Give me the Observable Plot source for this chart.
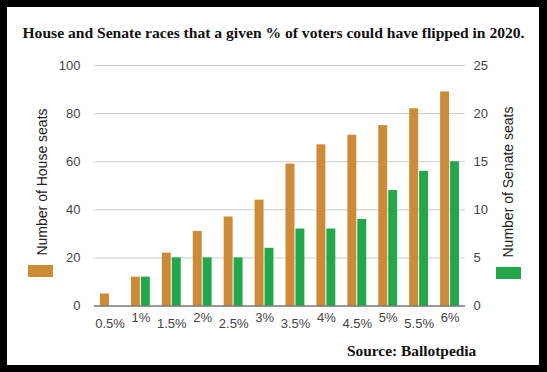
<!DOCTYPE html>
<html>
<head>
<meta charset="utf-8">
<script src="https://cdn.jsdelivr.net/npm/d3@7"></script>
<script src="https://cdn.jsdelivr.net/npm/@observablehq/plot@0.6"></script>
<style>
  html, body { margin: 0; padding: 0; background: #fff; }
  #page { position: relative; width: 547px; height: 372px; overflow: hidden; background: #fff; }
  #chart { position: absolute; left: 0; top: 0; }
  .title { position: absolute; left: 0; width: 547px; text-align: center; top: 25px;
    font: bold 15.6px "Liberation Serif", "Times New Roman", serif; line-height: 15.6px; color: #111; white-space: nowrap; }
  .source { position: absolute; left: 347px; top: 343px;
    font: bold 15.4px "Liberation Serif", "Times New Roman", serif; line-height: 15.4px; color: #111; white-space: nowrap; }
  .axtitle { position: absolute; font: 14px "Liberation Sans", Arial, sans-serif; color: #222; white-space: nowrap;
    transform: translate(-50%, -50%) rotate(-90deg); line-height: 14px; }
  .swatch { position: absolute; width: 25px; height: 12px; }
  #frame { position: absolute; left: 0; top: 0; width: 547px; height: 372px; box-sizing: border-box;
    border-style: solid; border-color: #000; border-width: 7px 8px 7px 7px; pointer-events: none; }
</style>
</head>
<body>
<div id="page">
  <div id="chart"></div>
  <div class="title">House and Senate races that a given % of voters could have flipped in 2020.</div>
  <div class="source">Source: Ballotpedia</div>
  <div class="axtitle" style="left:41.5px; top:182px;">Number of House seats</div>
  <div class="axtitle" style="left:507.5px; top:181.5px;">Number of Senate seats</div>
  <div class="swatch" style="left:28px; top:265px; background:#cd8a37;"></div>
  <div class="swatch" style="left:496px; top:267px; background:#22a84a;"></div>
  <div id="frame"></div>
</div>
<script>
// Data
const categories = ["0.5%", "1%", "1.5%", "2%", "2.5%", "3%", "3.5%", "4%", "4.5%", "5%", "5.5%", "6%"];
const houseSeats = [5, 12, 22, 31, 37, 44, 59, 67, 71, 75, 82, 89];
const senateSeats = [0, 3, 5, 5, 5, 6, 8, 8, 9, 12, 14, 15];
const houseTicks = [0, 20, 40, 60, 80, 100];
const senateTicks = [0, 5, 10, 15, 20, 25];

const houseColor = "#cd8a37";
const senateColor = "#22a84a";
const ratio = 100 / 25; // senate axis max 25 maps onto house axis max 100

const rows = categories.map((c, i) => ({cat: c, house: houseSeats[i], senate: senateSeats[i]}));

const W = 547, H = 372;
const mL = 94, mR = 82, mT = 65, mB = 66.5;
const pInner = 0.39, pOuter = 0.195;
const step = (W - mL - mR) / (categories.length - pInner + 2 * pOuter);
const bw = step * (1 - pInner);
const half = bw / 2 + 0.5;

const chart = Plot.plot({
  width: W,
  height: H,
  marginLeft: mL,
  marginRight: mR,
  marginTop: mT,
  marginBottom: mB,
  style: {fontFamily: "'Liberation Sans', Arial, sans-serif", fontSize: "13px", background: "transparent", color: "#444"},
  x: {domain: categories, paddingInner: pInner, paddingOuter: pOuter, round: false, axis: null},
  y: {domain: [0, 100], axis: null},
  marks: [
    Plot.gridY(houseTicks.filter(d => d > 0), {stroke: "#cccccc", strokeOpacity: 1}),
    Plot.barY(rows, {x: "cat", y: "house", fill: houseColor, insetRight: half, insetLeft: 0}),
    Plot.barY(rows, {x: "cat", y: d => d.senate * ratio, fill: senateColor, insetLeft: half, insetRight: 0}),
    Plot.ruleY([0], {stroke: "#333"}),
    Plot.axisY({anchor: "left", ticks: houseTicks, tickSize: 0, tickPadding: 14, label: null, fill: "#444"}),
    Plot.axisY({anchor: "right", ticks: senateTicks.map(d => d * ratio), tickFormat: d => String(d / ratio), tickSize: 0, tickPadding: 8, label: null, fill: "#444"}),
    Plot.axisX({ticks: categories.filter((d, i) => i % 2 === 0), tickSize: 0, tickPadding: 12.3, label: null, fill: "#444"}),
    Plot.axisX({ticks: categories.filter((d, i) => i % 2 === 1), tickSize: 0, tickPadding: 7, label: null, fill: "#444"})
  ]
});
document.getElementById("chart").appendChild(chart);
</script>
</body>
</html>
